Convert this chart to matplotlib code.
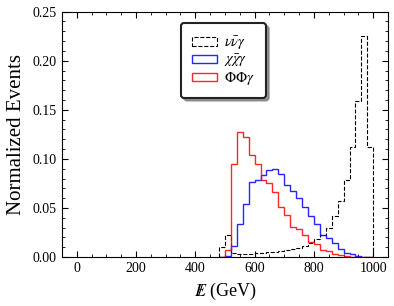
import numpy as np
import matplotlib
matplotlib.use("Agg")
import matplotlib.pyplot as plt

plt.rcParams['font.family'] = ['Liberation Serif', 'DejaVu Serif']
plt.rcParams['mathtext.fontset'] = 'stix'

# bin edges (GeV), 20 GeV bins from 480 to 1000
edges = np.arange(480, 1001, 20)

# nu nu gamma (dashed black)
nunu = [0.0105, 0.0224, 0.004, 0.003, 0.003, 0.0035, 0.004, 0.0045,
        0.005, 0.0055, 0.006, 0.007, 0.008, 0.0095, 0.011, 0.014,
        0.018, 0.022, 0.030, 0.042, 0.057, 0.078, 0.112, 0.159,
        0.2255, 0.1126]

# chi chibar gamma (blue)
chichi = [0.0, 0.001, 0.011, 0.034, 0.054, 0.076, 0.0786, 0.0837,
          0.0888, 0.090, 0.0843, 0.0735, 0.0677, 0.0599, 0.0514, 0.0418,
          0.0337, 0.0228, 0.019, 0.014, 0.0078, 0.0037, 0.0027, 0.001,
          0.0, 0.0]

# Phi Phi gamma (red)
phiphi = [0.0, 0.007, 0.0946, 0.127, 0.122, 0.104, 0.0946, 0.0786,
          0.075, 0.066, 0.0507, 0.0425, 0.031, 0.029, 0.0228, 0.0156,
          0.0133, 0.0071, 0.0065, 0.003, 0.002, 0.001, 0.0005, 0.0,
          0.0, 0.0]

labels = [r'$\nu\bar{\nu}\gamma$', r'$\chi\bar{\chi}\gamma$', r'$\Phi\Phi\gamma$']

fig = plt.figure(figsize=(3.94, 3.06), dpi=100)
ax = fig.add_axes([0.157, 0.160, 0.828, 0.802])

centers = edges[:-1] + 10
ax.hist(centers, bins=edges, weights=nunu, histtype='step', color='black',
        ls='--', lw=0.8, label=labels[0])
ax.hist(centers, bins=edges, weights=chichi, histtype='step', color='blue',
        lw=1.0, alpha=0.85, label=labels[1])
ax.hist(centers, bins=edges, weights=phiphi, histtype='step', color='red',
        lw=1.0, alpha=0.85, label=labels[2])

ax.set_xlim(-50, 1050)
ax.set_ylim(0, 0.25)
ax.set_xticks(np.arange(0, 1001, 200))
ax.set_xticks(np.arange(0, 1051, 50), minor=True)
ax.set_yticks(np.arange(0, 0.251, 0.05))
ax.set_yticks(np.arange(0, 0.251, 0.01), minor=True)
ax.yaxis.set_major_formatter(matplotlib.ticker.FormatStrFormatter('%.2f'))
ax.tick_params(which='both', direction='in', top=True, right=True, labelsize=10)
ax.tick_params(which='major', length=4)
ax.tick_params(which='minor', length=2)

ax.set_xlabel(r'$/\!\!\!\!E$ (GeV)', fontsize=13)
ax.set_ylabel('Normalized Events', fontsize=15, labelpad=5)

leg = ax.legend(loc='upper left', bbox_to_anchor=(0.366, 0.953), borderaxespad=0,
                fontsize=10.5, fancybox=True, shadow=True, framealpha=1,
                handlelength=1.7, handleheight=0.5, labelspacing=0.05,
                borderpad=0.75, handletextpad=0.5)
leg.get_frame().set_edgecolor('#222222')
leg.get_frame().set_linewidth(1.5)

fig.savefig('out.png', dpi=100)
